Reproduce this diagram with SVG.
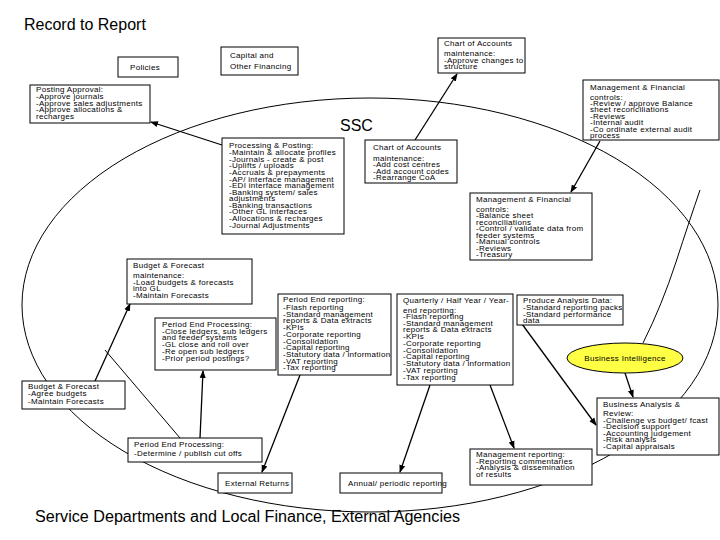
<svg xmlns="http://www.w3.org/2000/svg" width="720" height="540" viewBox="0 0 720 540">
<defs>
<marker id="ah" markerWidth="8" markerHeight="8" refX="7" refY="4" orient="auto" markerUnits="userSpaceOnUse"><path d="M0,1 L8,4 L0,7 z" fill="#000"/></marker>
<style>
.bx{fill:#fff;stroke:#000;stroke-width:1}
.t{font-family:"Liberation Sans",Arial,sans-serif;font-size:8px;letter-spacing:0.3px;fill:#000}
.ln{stroke:#000;stroke-width:1.3;fill:none;marker-end:url(#ah)}
.pl{stroke:#000;stroke-width:1;fill:none}
</style>
</defs>
<rect width="720" height="540" fill="#fff"/>
<text x="24" y="30" font-family="Liberation Sans,Arial,sans-serif" font-size="16">Record to Report</text>
<ellipse id="ssc-boundary" cx="370" cy="305" rx="348" ry="207" class="pl"/>
<text x="340" y="131" font-family="Liberation Sans,Arial,sans-serif" font-size="16">SSC</text>
<text x="35" y="522" font-family="Liberation Sans,Arial,sans-serif" font-size="16" textLength="425" lengthAdjust="spacingAndGlyphs">Service Departments and Local Finance, External Agencies</text>

<g id="connectors">
<line class="ln" x1="222" y1="145" x2="151" y2="122"/>
<line class="ln" x1="415" y1="140" x2="457" y2="74"/>
<line class="ln" x1="600" y1="141" x2="571" y2="192"/>
<line class="ln" x1="95" y1="381" x2="130" y2="304"/>
<line class="ln" x1="200" y1="438" x2="203" y2="371"/>
<line class="ln" x1="522" y1="324" x2="596" y2="425"/>
<line class="ln" x1="625" y1="373" x2="633" y2="397"/>
<path class="pl" d="M643,343 Q662,305 676,262 T700,190"/>
<line class="pl" x1="105" y1="350" x2="180" y2="438"/>
<line class="ln" x1="300" y1="375" x2="262" y2="472"/>
<line class="ln" x1="430" y1="385" x2="400" y2="472"/>
<line class="ln" x1="490" y1="385" x2="514" y2="448"/>
</g>

<g id="policies"><rect class="bx" x="118" y="57" width="60" height="20"/><text class="t" x="130" y="70">Policies</text></g>
<g id="capital"><rect class="bx" x="221" y="47" width="77" height="28"/><text class="t" x="230" y="58">Capital  and</text><text class="t" x="230" y="69">Other Financing</text></g>
<g id="coa-top"><rect class="bx" x="438" y="38" width="87" height="35"/>
<text class="t" x="444" y="46">Chart of Accounts</text><text class="t" x="444" y="56">maintenance:</text><text class="t" x="444" y="63">-Approve changes to</text><text class="t" x="444" y="69">structure</text></g>
<g id="posting-approval"><rect class="bx" x="30" y="85" width="120" height="38"/>
<text class="t" x="36" y="92">Posting Approval:</text><text class="t" x="36" y="99">-Approve journals</text><text class="t" x="36" y="106">-Approve sales adjustments</text><text class="t" x="36" y="112">-Approve allocations &amp;</text><text class="t" x="36" y="119">recharges</text></g>
<g id="mfc-top"><rect class="bx" x="583" y="80" width="136" height="60"/>
<text class="t" x="590" y="90">Management &amp; Financial</text><text class="t" x="590" y="100">controls:</text><text class="t" x="590" y="106">-Review / approve Balance</text><text class="t" x="590" y="112">sheet reconciliations</text><text class="t" x="590" y="119">-Reviews</text><text class="t" x="590" y="125">-Internal audit</text><text class="t" x="590" y="132">-Co ordinate external audit</text><text class="t" x="590" y="138">process</text></g>
<g id="processing"><rect class="bx" x="222" y="138" width="122" height="96"/>
<text class="t" x="229" y="148">Processing &amp; Posting:</text><text class="t" x="229" y="155">-Maintain &amp; allocate profiles</text><text class="t" x="229" y="162">-Journals - create &amp; post</text><text class="t" x="229" y="168">-Uplifts / uploads</text><text class="t" x="229" y="175">-Accruals &amp; prepayments</text><text class="t" x="229" y="182">-AP/ interface management</text><text class="t" x="229" y="188">-EDI interface management</text><text class="t" x="229" y="195">-Banking system/ sales</text><text class="t" x="229" y="201">adjustments</text><text class="t" x="229" y="208">-Banking transactions</text><text class="t" x="229" y="214">-Other GL interfaces</text><text class="t" x="229" y="221">-Allocations &amp; recharges</text><text class="t" x="229" y="228">-Journal Adjustments</text></g>
<g id="coa-ssc"><rect class="bx" x="365" y="140" width="92" height="43"/>
<text class="t" x="373" y="150">Chart of Accounts</text><text class="t" x="373" y="161">maintenance:</text><text class="t" x="373" y="167">-Add cost centres</text><text class="t" x="373" y="174">-Add account codes</text><text class="t" x="373" y="180">-Rearrange CoA</text></g>
<g id="mfc-ssc"><rect class="bx" x="470" y="193" width="122" height="67"/>
<text class="t" x="476" y="202">Management &amp; Financial</text><text class="t" x="476" y="212">controls:</text><text class="t" x="476" y="218">-Balance sheet</text><text class="t" x="476" y="225">reconciliations</text><text class="t" x="476" y="231">-Control / validate data from</text><text class="t" x="476" y="238">feeder systems</text><text class="t" x="476" y="244">-Manual controls</text><text class="t" x="476" y="251">-Reviews</text><text class="t" x="476" y="257">-Treasury</text></g>
<g id="budget-maint"><rect class="bx" x="127" y="259" width="125" height="45"/>
<text class="t" x="133" y="268">Budget &amp; Forecast</text><text class="t" x="133" y="278">maintenance:</text><text class="t" x="133" y="285">-Load budgets &amp; forecasts</text><text class="t" x="133" y="291">into GL</text><text class="t" x="133" y="298">-Maintain Forecasts</text></g>
<g id="pep-mid"><rect class="bx" x="155" y="318" width="121" height="52"/>
<text class="t" x="162" y="327">Period End Processing:</text><text class="t" x="162" y="334">-Close ledgers, sub ledgers</text><text class="t" x="162" y="340">and feeder systems</text><text class="t" x="162" y="347">-GL close and roll over</text><text class="t" x="162" y="354">-Re open sub ledgers</text><text class="t" x="162" y="361">-Prior period postings?</text></g>
<g id="per"><rect class="bx" x="278" y="294" width="113" height="81"/>
<text class="t" x="283" y="302">Period End reporting:</text><text class="t" x="283" y="310">-Flash reporting</text><text class="t" x="283" y="317">-Standard management</text><text class="t" x="283" y="323">reports &amp; Data extracts</text><text class="t" x="283" y="330">-KPIs</text><text class="t" x="283" y="337">-Corporate reporting</text><text class="t" x="283" y="344">-Consolidation</text><text class="t" x="283" y="350">-Capital reporting</text><text class="t" x="283" y="357">-Statutory data / information</text><text class="t" x="283" y="364">-VAT reporting</text><text class="t" x="283" y="370">-Tax reporting</text></g>
<g id="qhy"><rect class="bx" x="397" y="294" width="116" height="91"/>
<text class="t" x="403" y="303">Quarterly / Half Year / Year-</text><text class="t" x="403" y="313">end reporting:</text><text class="t" x="403" y="319">-Flash reporting</text><text class="t" x="403" y="326">-Standard management</text><text class="t" x="403" y="332">reports &amp; Data extracts</text><text class="t" x="403" y="339">-KPIs</text><text class="t" x="403" y="346">-Corporate reporting</text><text class="t" x="403" y="353">-Consolidation</text><text class="t" x="403" y="359">-Capital reporting</text><text class="t" x="403" y="366">-Statutory data / information</text><text class="t" x="403" y="373">-VAT reporting</text><text class="t" x="403" y="380">-Tax reporting</text></g>
<g id="pad"><rect class="bx" x="517" y="295" width="106" height="30"/>
<text class="t" x="523" y="303">Produce Analysis Data:</text><text class="t" x="523" y="310">-Standard reporting packs</text><text class="t" x="523" y="317">-Standard performance</text><text class="t" x="523" y="323">data</text></g>
<g id="bi"><ellipse cx="625" cy="358" rx="58" ry="15" fill="#ffff44" stroke="#000"/><text class="t" x="625" y="361" text-anchor="middle">Business Intelligence</text></g>
<g id="budget-left"><rect class="bx" x="22" y="381" width="103" height="28"/>
<text class="t" x="28" y="389">Budget &amp; Forecast</text><text class="t" x="28" y="396">-Agree budgets</text><text class="t" x="28" y="404">-Maintain Forecasts</text></g>
<g id="bar"><rect class="bx" x="597" y="398" width="122" height="57"/>
<text class="t" x="603" y="407">Business Analysis &amp;</text><text class="t" x="603" y="416">Review:</text><text class="t" x="603" y="423">-Challenge vs budget/ fcast</text><text class="t" x="603" y="429">-Decision support</text><text class="t" x="603" y="436">-Accounting judgement</text><text class="t" x="603" y="442">-Risk analysis</text><text class="t" x="603" y="449">-Capital appraisals</text></g>
<g id="pep-bottom"><rect class="bx" x="128" y="438" width="134" height="24"/>
<text class="t" x="134" y="447">Period End Processing:</text><text class="t" x="134" y="456">-Determine / publish cut offs</text></g>
<g id="ext"><rect class="bx" x="218" y="473" width="74" height="20"/><text class="t" x="225" y="486">External Returns</text></g>
<g id="annual"><rect class="bx" x="340" y="473" width="102" height="20"/><text class="t" x="348" y="486">Annual/ periodic reporting</text></g>
<g id="mgmt-rep"><rect class="bx" x="470" y="449" width="122" height="36"/>
<text class="t" x="476" y="457">Management reporting:</text><text class="t" x="476" y="464">-Reporting commentaries</text><text class="t" x="476" y="470">-Analysis &amp; dissemination</text><text class="t" x="476" y="477">of results</text></g>
</svg>
